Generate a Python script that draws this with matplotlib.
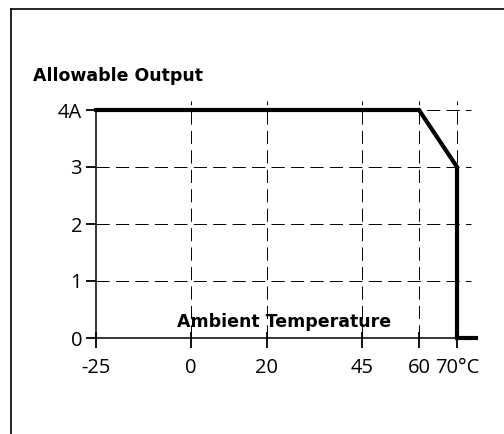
import matplotlib
matplotlib.use("Agg")
import matplotlib.pyplot as plt

# derating curve
temp = [-25, 60, 70, 70, 75]
output = [4, 4, 3, 0, 0]

x_ticks = [-25, 0, 20, 45, 60, 70]
x_labels = ["-25", "0", "20", "45", "60", "70°C"]
y_ticks = [0, 1, 2, 3, 4]
y_labels = ["0", "1", "2", "3", "4A"]
grid_x = [0, 20, 45, 60, 70]
grid_y = [1, 2, 3, 4]

plt.rcParams["font.family"] = ["Open Sans", "DejaVu Sans"]
plt.rcParams["lines.scale_dashes"] = False

fig = plt.figure(figsize=(5.04, 4.34), dpi=100)

# frame around the figure (only left and top visible)
fig.add_artist(plt.Line2D([11 / 504, 11 / 504], [0, 1 - 9 / 434], color="black", lw=1.2,
                          transform=fig.transFigure))
fig.add_artist(plt.Line2D([11 / 504, 1], [1 - 9 / 434, 1 - 9 / 434], color="black", lw=1.2,
                          transform=fig.transFigure))

ax = fig.add_axes([96 / 504, (434 - 338) / 434, (495 - 96) / 504, (338 - 92.9) / 434])
ax.set_xlim(-25, 80)
ax.set_ylim(0, 4.3)

dash = (0, (9.5, 4.5))
ax.vlines(grid_x, 0, 4.15, color="black", lw=0.7, linestyles=[dash], zorder=1)
ax.hlines(grid_y, -25, 73.8, color="black", lw=0.7, linestyles=[dash], zorder=1)

ax.plot(temp, output, color="black", lw=3, solid_joinstyle="miter", zorder=3, clip_on=False)

for s in ["top", "right"]:
    ax.spines[s].set_visible(False)
ax.spines["left"].set_bounds(0, 4)
ax.spines["bottom"].set_bounds(-25, 75)
ax.spines["left"].set_linewidth(1.1)
ax.spines["bottom"].set_linewidth(1.1)

# tick marks: crossing the x axis, outward on the y axis
ax.vlines(x_ticks, -0.17, 0.1, color="black", lw=1.3, clip_on=False, zorder=4)
ax.hlines(y_ticks, -27.6, -25, color="black", lw=1.3, clip_on=False, zorder=4)

ax.set_xticks([])
ax.set_yticks([])

# tick labels placed by pixel offset from the axis lines
for tx, lab in zip(x_ticks, x_labels):
    if lab.endswith("°C"):
        ax.annotate(lab, (tx, 0), xytext=(-22, -20), textcoords="offset pixels",
                    fontsize=14.5, ha="left", va="top", annotation_clip=False)
    else:
        ax.annotate(lab, (tx, 0), xytext=(0, -20), textcoords="offset pixels",
                    fontsize=14.5, ha="center", va="top", annotation_clip=False)
for ty, lab in zip(y_ticks, y_labels):
    ax.annotate(lab, (-25, ty), xytext=(-14, 0), textcoords="offset pixels",
                fontsize=14.5, ha="right", va="center_baseline", annotation_clip=False)

bold = ["DejaVu Sans"]
fig.text(33 / 504, 1 - 76 / 434, "Allowable Output", fontsize=12.5, fontweight="bold",
         family=bold, ha="left", va="center")
ax.text(24.5, 0.28, "Ambient Temperature", fontsize=12.5, fontweight="bold",
        family=bold, ha="center", va="center")

fig.savefig("out.png", dpi=100)
